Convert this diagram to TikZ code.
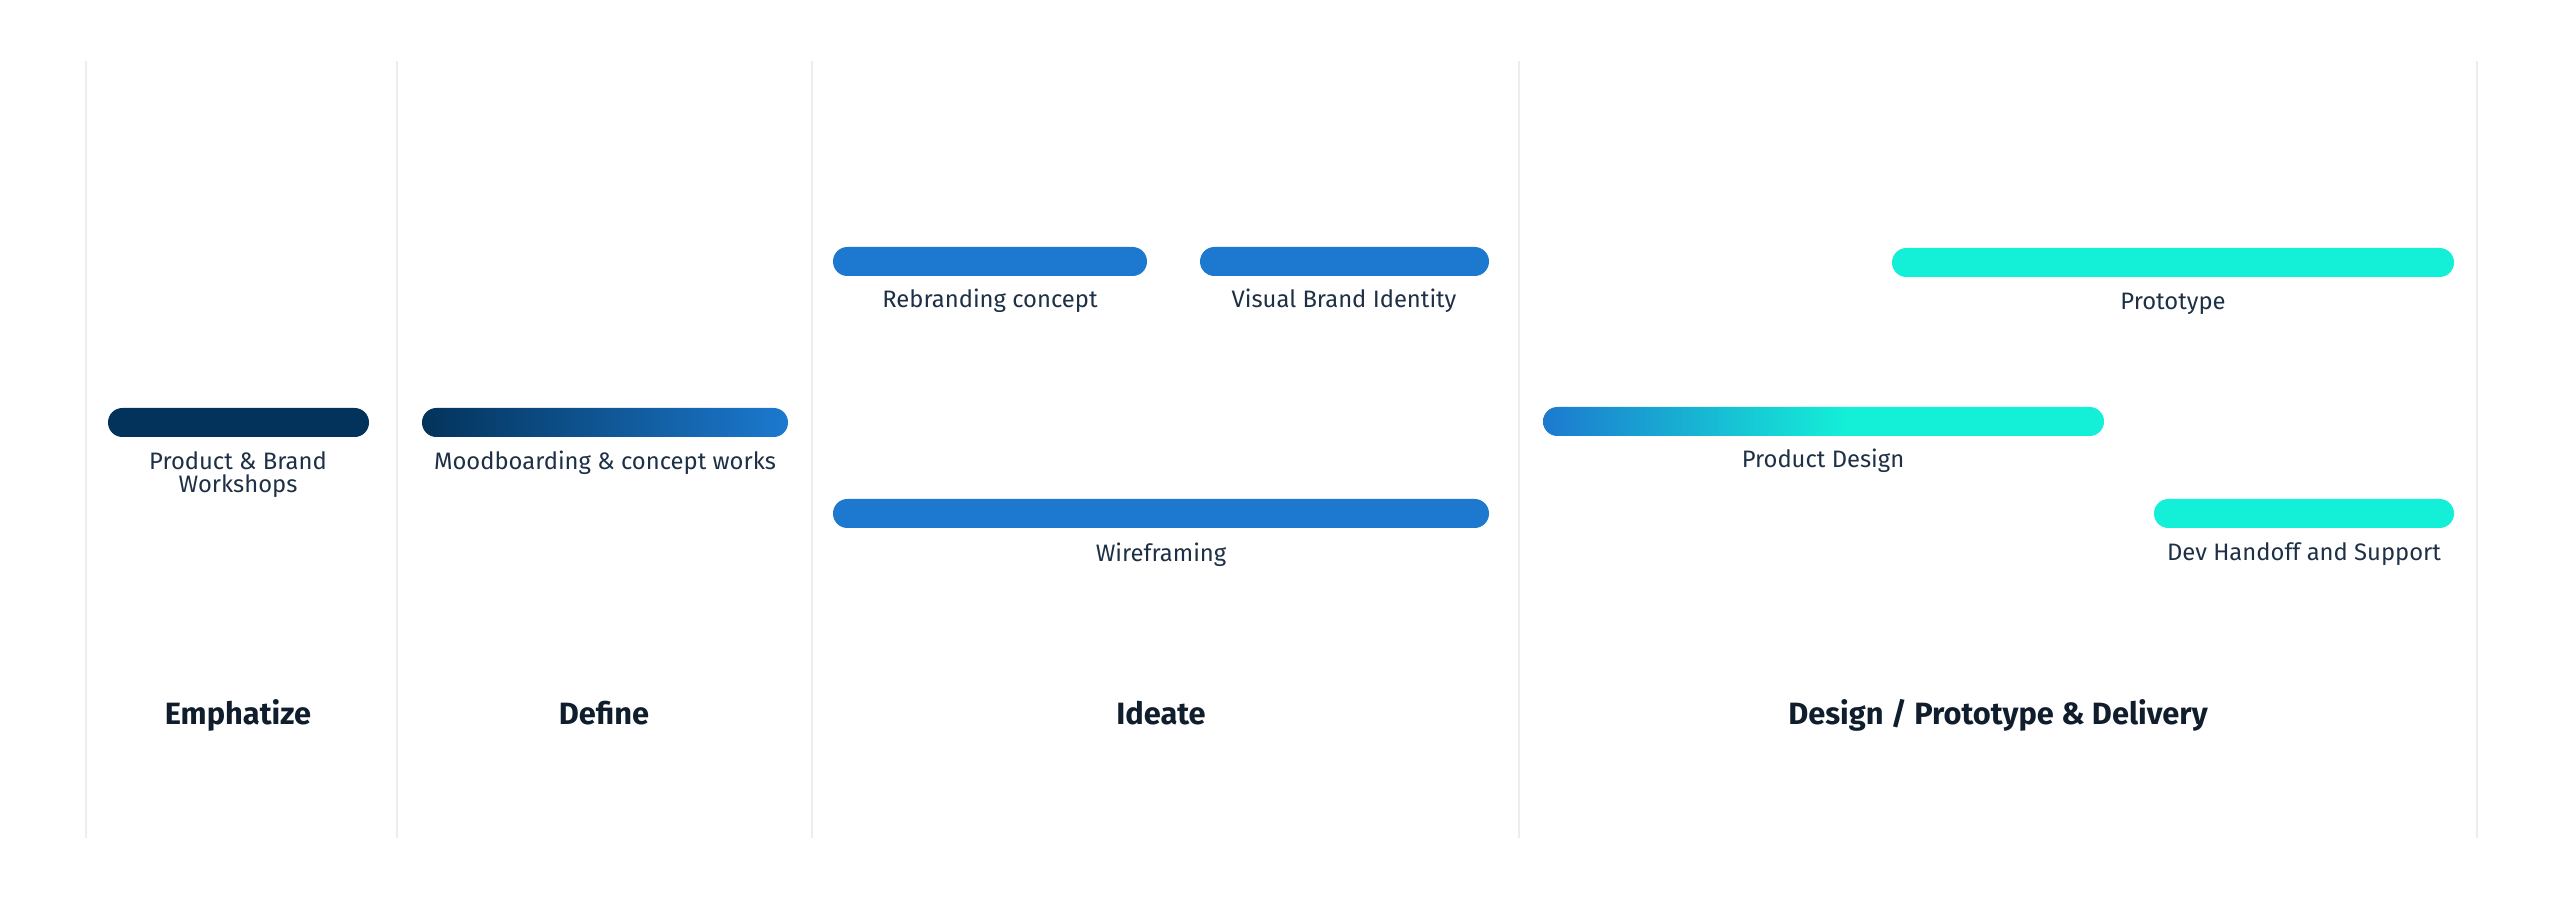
\documentclass[tikz,border=0pt]{standalone}
\usepackage{fontspec}
\setmainfont{Fira Sans}
\usetikzlibrary{positioning}
\definecolor{navy}{HTML}{03335A}
\definecolor{azul}{HTML}{1C79CF}
\definecolor{turq}{HTML}{14EFD7}
\definecolor{texto}{HTML}{1E3045}
\definecolor{titulo}{HTML}{0F1D2C}
\definecolor{linea}{HTML}{EDEDED}
\pgfdeclarehorizontalshading{disenho}{100bp}{color(0bp)=(azul); color(25bp)=(azul); color(52bp)=(turq); color(100bp)=(turq)}
\begin{document}
\begin{tikzpicture}[x=0.5pt,y=-0.5pt,
	barra/.style={rounded corners=7.2pt},
	etiqueta/.style={anchor=base,text=texto,align=center,font=\fontsize{11.9}{11.6}\selectfont},
	fase/.style={anchor=base,text=titulo,font=\fontsize{15.4}{17}\selectfont\bfseries}]
	\useasboundingbox (0,0) rectangle (2560,898);

	% columnas
	\foreach \x in {86,397,812,1519,2477}
		\draw[linea,line width=1pt] (\x,61) -- (\x,838);

	% barras
	\fill[navy,barra] (108,408) rectangle (369,437);
	\shade[barra,left color=navy,right color=azul] (422,408) rectangle (788,437);
	\fill[azul,barra] (833,247) rectangle (1147,276);
	\fill[azul,barra] (1200,247) rectangle (1489,276);
	\fill[azul,barra] (833,499) rectangle (1489,528);
	\fill[turq,barra] (1892,248) rectangle (2454,277);
	\shade[barra,shading=disenho] (1543,407) rectangle (2104,436);
	\fill[turq,barra] (2154,499) rectangle (2454,528);

	% etiquetas
	\node[etiqueta] (pbw) at (238,493) {Product \& Brand\\Workshops};
	\node[etiqueta] (mood) at (605,470) {Moodboarding \& concept works};
	\node[etiqueta] (rebr) at (990,308) {Rebranding concept};
	\node[etiqueta] (vbi) at (1344,308) {Visual Brand Identity};
	\node[etiqueta] (wire) at (1161,561) {Wireframing};
	\node[etiqueta] (proto) at (2173,310) {Prototype};
	\node[etiqueta] (pdes) at (1823,468) {Product Design};
	\node[etiqueta] (dev) at (2304,560) {Dev Handoff and Support};

	% fases
	\node[fase] (emp) at (238,724) {Emphatize};
	\node[fase] (def) at (604,724) {Define};
	\node[fase] (ide) at (1161,724) {Ideate};
	\node[fase] (dpd) at (1998,724) {Design / Prototype \& Delivery};
\end{tikzpicture}
\end{document}
